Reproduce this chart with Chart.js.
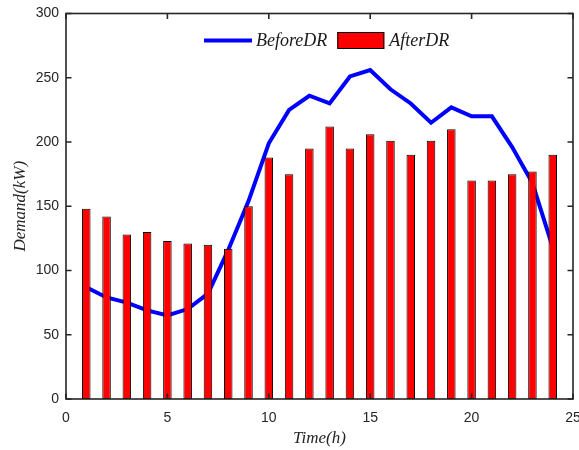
<!DOCTYPE html>
<html><head><meta charset="utf-8">
<script src="https://cdn.jsdelivr.net/npm/chart.js@4.4.0/dist/chart.umd.min.js"></script>
<style>html,body{margin:0;padding:0;background:#fff}#wrap{width:579px;height:450px}</style>
</head><body><div id="wrap"><canvas id="c" width="579" height="450"></canvas></div>
<script>
const hours = [1,2,3,4,5,6,7,8,9,10,11,12,13,14,15,16,17,18,19,20,21,22,23,24];
const beforeDR = [87,79,75,69,65,70,82,116,154,199,225,236,230,251,256,241,230,215,227,220,220,196,168,118];
const afterDR = [148,142,128,130,123,121,120,117,150,188,175,195,212,195,206,201,190,201,210,170,170,175,177,190];
const xTicks = [0,5,10,15,20,25];
const yTicks = [0,50,100,150,200,250,300];
const seriesNames = ['BeforeDR','AfterDR'];
const xTitle = 'Time(h)';
const yTitle = 'Demand(kW)';

const axisColor = '#262626';
const tickFont = {family: "'Liberation Sans', Arial, sans-serif", size: 14};
const titleFont = {family: "'Liberation Serif', 'Times New Roman', serif", size: 17, style: 'italic'};

const boxTicks = {
  id: 'boxTicks',
  afterDraw(chart) {
    const {ctx, chartArea: a, scales: {x, y}} = chart;
    ctx.save();
    ctx.strokeStyle = axisColor;
    ctx.lineWidth = 1.6;
    ctx.strokeRect(a.left, a.top, a.right - a.left, a.bottom - a.top);
    const L = 5.5;
    ctx.beginPath();
    xTicks.forEach(v => {
      const px = x.getPixelForValue(v);
      ctx.moveTo(px, a.bottom); ctx.lineTo(px, a.bottom - L);
      ctx.moveTo(px, a.top); ctx.lineTo(px, a.top + L);
    });
    yTicks.forEach(v => {
      const py = y.getPixelForValue(v);
      ctx.moveTo(a.left, py); ctx.lineTo(a.left + L, py);
      ctx.moveTo(a.right, py); ctx.lineTo(a.right - L, py);
    });
    ctx.stroke();
    ctx.restore();
  }
};

const customLegend = {
  id: 'customLegend',
  afterDraw(chart) {
    const {ctx, chartArea: a} = chart;
    const ds = chart.data.datasets;
    ctx.save();
    ctx.font = "italic 18px 'Liberation Serif', 'Times New Roman', serif";
    ctx.textBaseline = 'middle';
    ctx.textAlign = 'left';
    ctx.fillStyle = '#1a1a1a';
    let x0 = a.left + 138;
    const yc = a.top + 27;
    ctx.strokeStyle = ds[0].borderColor;
    ctx.lineWidth = 4;
    ctx.beginPath(); ctx.moveTo(x0, yc); ctx.lineTo(x0 + 48, yc); ctx.stroke();
    x0 += 52;
    ctx.fillText(ds[0].label, x0, yc + 1);
    x0 += ctx.measureText(ds[0].label).width + 10;
    ctx.fillStyle = ds[1].backgroundColor;
    ctx.fillRect(x0, yc - 8.5, 47, 17);
    ctx.strokeStyle = '#000';
    ctx.lineWidth = 1;
    ctx.strokeRect(x0 + 0.5, yc - 8, 46, 16);
    x0 += 52;
    ctx.fillStyle = '#1a1a1a';
    ctx.fillText(ds[1].label, x0, yc + 1);
    ctx.restore();
  }
};

new Chart(document.getElementById('c'), {
  type: 'bar',
  data: {
    datasets: [
      {
        type: 'line',
        label: seriesNames[0],
        data: hours.map((h, i) => ({x: h, y: beforeDR[i]})),
        borderColor: '#0000ff',
        backgroundColor: '#0000ff',
        borderWidth: 4,
        pointRadius: 0,
        tension: 0,
        fill: false,
        order: 2
      },
      {
        type: 'bar',
        label: seriesNames[1],
        data: hours.map((h, i) => ({x: h, y: afterDR[i]})),
        backgroundColor: '#ff0000',
        borderColor: '#000000',
        borderWidth: 1,
        borderSkipped: false,
        barPercentage: 0.42,
        categoryPercentage: 1,
        order: 1
      }
    ]
  },
  options: {
    responsive: false,
    animation: false,
    devicePixelRatio: 1,
    layout: {padding: {left: 0, right: 6, top: 13.5, bottom: 0}},
    plugins: {legend: {display: false}, tooltip: {enabled: false}},
    scales: {
      x: {
        type: 'linear',
        min: 0, max: 25,
        offset: false,
        grid: {display: false, drawTicks: false},
        border: {display: false},
        ticks: {stepSize: 5, font: tickFont, color: axisColor, padding: 11, maxRotation: 0, autoSkip: false},
        title: {display: true, text: xTitle, font: titleFont, color: axisColor, padding: {top: 0, bottom: 1}},
        afterFit(s) { s.height = 51; s.paddingLeft = 0; s.paddingRight = 0; }
      },
      y: {
        min: 0, max: 300,
        grid: {display: false, drawTicks: false},
        border: {display: false},
        ticks: {stepSize: 50, font: tickFont, color: axisColor, padding: 7},
        title: {display: true, text: yTitle, font: titleFont, color: axisColor, padding: {top: 10, bottom: 0}},
        afterFit(s) { s.width = 66; s.paddingTop = 0; s.paddingBottom = 0; }
      }
    }
  },
  plugins: [boxTicks, customLegend]
});
</script>
</body></html>
